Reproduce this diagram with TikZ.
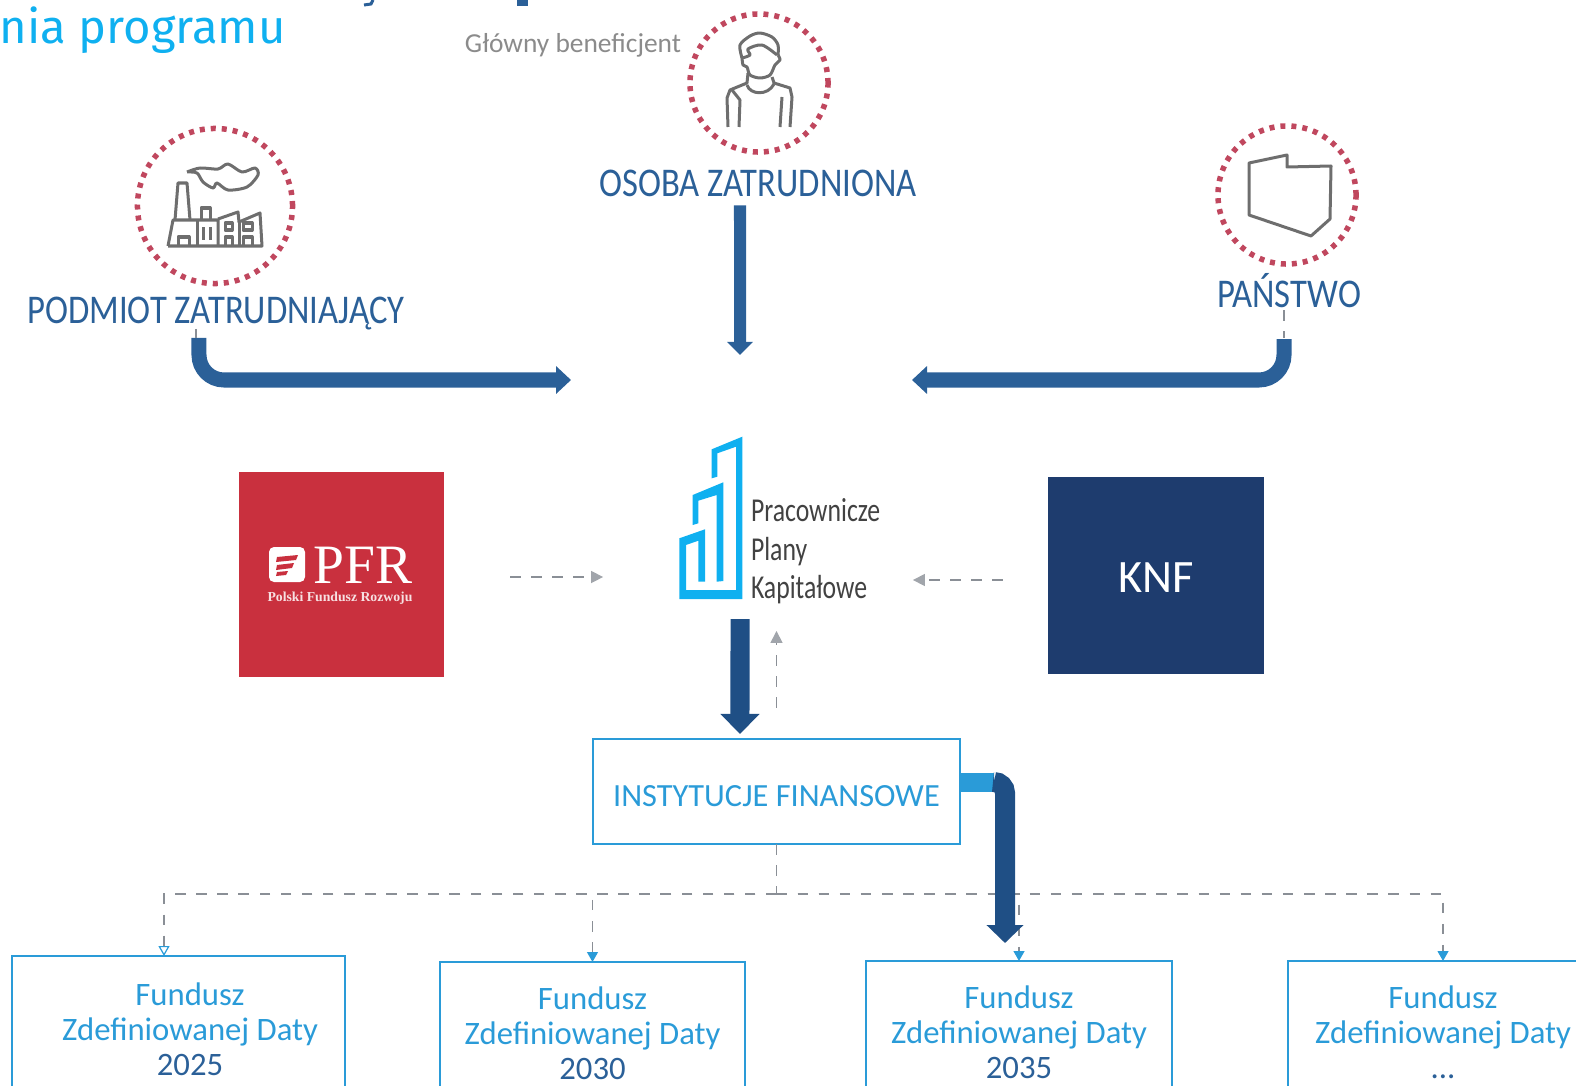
\documentclass[tikz,border=0pt]{standalone}
\usepackage{fontspec}
\usetikzlibrary{arrows.meta}
\newfontfamily\labelfont[FakeStretch=0.85]{Carlito}
\newfontfamily\ppkfont[FakeStretch=0.77]{Carlito}
\newfontfamily\fundfont{Carlito}
\newfontfamily\titlefont{Fira Sans}
\newfontfamily\logofont{Liberation Serif}
\definecolor{ringred}{HTML}{C0475E}
\definecolor{icongray}{HTML}{6E6E6E}
\definecolor{flowblue}{HTML}{2B6098}
\definecolor{deepblue}{HTML}{1F4F85}
\definecolor{fundblue}{HTML}{2A9BD8}
\definecolor{ppkcyan}{HTML}{0FB0F0}
\definecolor{pfrred}{HTML}{C9303E}
\definecolor{knfblue}{HTML}{1E3C6E}
\definecolor{dashgray}{HTML}{8A8F96}
\newcommand{\fundlines}[1]{\begin{tabular}{@{}c@{}}Fundusz\\Zdefiniowanej Daty\\\textcolor{flowblue}{#1}\end{tabular}}
\begin{document}
\begin{tikzpicture}[x=0.01cm,y=-0.01cm,inner sep=0pt,outer sep=0pt,
ringnode/.style={draw=ringred,circle,line width=0.055cm,dash pattern=on 0.05cm off 0.06cm},
partylabel/.style={text=flowblue,font=\labelfont\fontsize{11.6}{13}\selectfont},
logobox/.style={rectangle,minimum width=2.05cm,minimum height=2.05cm},
iconline/.style={draw=icongray,line width=0.03cm,line join=round},
bigarrow/.style={draw=flowblue,line width=0.15cm,-{Triangle[length=0.15cm,width=0.27cm]}},
grayarrow/.style={draw=dashgray,line width=0.015cm,dashed,-{Triangle[length=0.12cm,width=0.12cm,color=dashgray!80]}},
instbox/.style={draw=fundblue,rectangle,line width=0.02cm,minimum width=3.67cm,minimum height=1.05cm,text=fundblue,font=\fundfont\fontsize{9.2}{12}\selectfont},
fundbox/.style={draw=fundblue,rectangle,anchor=north,line width=0.02cm,minimum width=3.05cm,minimum height=1.51cm,text=fundblue,font=\fundfont\fontsize{9.3}{10}\selectfont},
treeline/.style={draw=dashgray,line width=0.012cm,dashed},
treearrow/.style={treeline,-{Triangle[length=0.1cm,width=0.11cm,color=fundblue]}}]
\useasboundingbox (0,0) rectangle (1576,1085);

% heading
\draw (285.5,44) node[anchor=base east,text=ppkcyan,font=\titlefont\fontsize{13.4}{15}\selectfont] (title) {nia programu};
\fill[flowblue] (517,0) rectangle (528,6);
\draw[flowblue,line width=0.03cm] (373,0) -- (371,4) -- (364,5);

% parties
\draw (759,83) node[ringnode,minimum size=1.38cm] (osobaring) {};
\draw (215,206) node[ringnode,minimum size=1.55cm] (podmiotring) {};
\draw (1287,195) node[ringnode,minimum size=1.38cm] (panstworing) {};
\draw (573,45) node[text=icongray!80,font=\fundfont\fontsize{7.8}{10}\selectfont] (beneficjent) {Główny beneficjent};
\draw (758,183) node[partylabel] (osoba) {OSOBA ZATRUDNIONA};
\draw (216,313.5) node[partylabel] (podmiot) {PODMIOT ZATRUDNIAJĄCY};
\draw (1289,291) node[partylabel] (panstwo) {PAŃSTWO};

% person
\draw[iconline] plot[smooth] coordinates {(742,58) (740,45) (750,36) (760,33) (772,37) (778,45) (778,55)};
\draw[iconline] plot[smooth] coordinates {(742,58) (750,55) (748,49) (762,45) (777,55)};
\draw[iconline] plot[smooth] coordinates {(742,57) (743,65) (747,67) (750,75) (760,78) (770,75) (775,65) (780,60) (778,55)};
\draw[iconline] (748,73) -- (747,83) -- (730,90) -- (727,98) -- (728,127);
\draw[iconline] (772,77) -- (774,83) -- (790,88) -- (792,97) -- (790,127);
\draw[iconline] (747,85) .. controls (750,95) and (768,96) .. (774,84);
\draw[iconline] (732,90) -- (740,100) -- (739,127);
\draw[iconline] (782,97) -- (780,127);
% factory
\draw[iconline] (168,246) -- (173,220) -- (218,220) -- (218,246);
\draw[iconline] (175,220) -- (178,183) -- (187,183) -- (190,220);
\draw[iconline] (168,246) -- (262,246) -- (260,213) -- (239,222) -- (238,212) -- (218,219);
\draw[iconline] (197,220) -- (197,246);
\draw[iconline] (239,222) -- (239,246);
\draw[iconline] (201,220) -- (201,208) -- (210,208) -- (210,220);
\draw[iconline] (178,246) -- (178,237) -- (189,237) -- (189,246);
\draw[iconline] (203,227) -- (203,240) (210,227) -- (210,240);
\draw[iconline] (225,223) rectangle (232,230);
\draw[iconline] (243,223) rectangle (252,230);
\draw[iconline] (225,246) -- (225,237) -- (232,237) -- (232,246);
\draw[iconline] (243,246) -- (243,237) -- (252,237) -- (252,246);
\draw[iconline] plot[smooth] coordinates {(187,172) (200,168) (218,169) (228,164) (242,172) (255,168) (258,175) (247,187) (228,190) (217,183) (213,188) (203,182) (197,173) (187,172)};
% map
\draw[iconline] (1249,163) -- (1287,155) -- (1287,167) -- (1331,166) -- (1330,219) -- (1311,236) -- (1249,215) -- cycle;

% logos
\draw (341.5,574.5) node[logobox,fill=pfrred] (pfr) {};
\draw[fill=white,draw=none,rounded corners=0.05cm] (269,547) rectangle (305,582);
\fill[pfrred] (277,557) -- (298,555) -- (296,560) -- (276,562) -- cycle;
\fill[pfrred] (277,565) -- (294,563) -- (292,568) -- (276,570) -- cycle;
\fill[pfrred] (277,572) -- (288,571) -- (286,575) -- (276,576) -- cycle;
\draw (363,565) node[text=white,font=\logofont\fontsize{15.8}{16}\selectfont] (pfrname) {PFR};
\draw (340,598) node[text=white!85!pfrred,font=\logofont\bfseries\fontsize{3.9}{6}\selectfont] (pfrfull) {Polski Fundusz Rozwoju};
\draw (1156,575.5) node[logobox,fill=knfblue,minimum width=2.16cm,minimum height=1.97cm] (knf) {};
\draw (1156,578) node[text=white,font=\fundfont\fontsize{13.2}{15}\selectfont] (knfname) {KNF};
\fill[ppkcyan] (679.3,599) -- (679.3,538.3) -- (705,529.3) -- (705,581.7) -- (698.3,581.7) -- (698.3,540.7) -- (686,545) -- (686,590) -- (736,590) -- (736,446.7) -- (717.3,453.3) -- (717.3,476.7) -- (711.7,478.3) -- (711.7,449.3) -- (742.3,436.7) -- (742.3,599) -- cycle;
\fill[ppkcyan] (692.7,495) -- (723.3,482.3) -- (723.3,581) -- (716.7,581.7) -- (716.7,495) -- (698.3,500.7) -- (698.3,523.3) -- (692.7,525) -- cycle;
\draw (751,551.5) node[anchor=west,align=left,text=icongray!60!black,font=\ppkfont\fontsize{9.5}{11}\selectfont] (ppk) {Pracownicze\\Plany\\Kapitałowe};

% money flows
\coordinate (podmiotend) at (571,380);
\coordinate (panstwoend) at (912,380);
\coordinate (osobaend) at (740,355);
\draw[bigarrow,line width=0.12cm,-{Triangle[length=0.13cm,width=0.25cm]}] ([xshift=-0.18cm,yshift=-0.09cm]osoba.south) -- (osobaend);
\draw[bigarrow,rounded corners=0.25cm] ([xshift=-0.17cm,yshift=-0.08cm]podmiot.south) |- (podmiotend);
\draw[bigarrow,rounded corners=0.25cm] ([xshift=-0.05cm,yshift=-0.31cm]panstwo.south) |- (panstwoend);
\draw[treeline] ([xshift=-0.2cm,yshift=0.01cm]podmiot.south) -- ++(0,9);
\draw[treeline] ([xshift=-0.05cm,yshift=-0.02cm]panstwo.south) -- ++(0,28);

% supervision
\draw[grayarrow] ([xshift=0.66cm,yshift=-0.025cm]pfr.east) -- ++(93,0) coordinate (pfrend);
\draw[grayarrow] ([xshift=-0.45cm,yshift=-0.045cm]knf.west) -- ++(-90,0) coordinate (knfend);

% institutions
\draw (776.5,791.5) node[instbox] (inst) {\raisebox{-0.15cm}[0pt][0pt]{INSTYTUCJE FINANSOWE}};
\coordinate (ppkout) at (740,619);
\draw[bigarrow,draw=deepblue,line width=0.19cm,-{Triangle[length=0.2cm,width=0.38cm]}] (ppkout) -- ([xshift=-0.365cm,yshift=0.05cm]inst.north);
\draw[grayarrow] ([yshift=0.31cm]inst.north) -- ++(0,-77) coordinate (instup);

% funds
\draw (178.5,956) node[fundbox,minimum width=3.33cm,minimum height=1.55cm] (fund2025) {\hspace*{0.23cm}\fundlines{2025}};
\draw (592.5,962) node[fundbox] (fund2030) {\fundlines{2030}};
\draw (1019,961) node[fundbox] (fund2035) {\fundlines{2035}};
\draw (1443,961) node[fundbox,minimum width=3.1cm] (funddots) {\fundlines{...}};
\draw[treeline] (inst.south) -- ++(0,50) coordinate (treejoint);
\draw[treearrow,-{Triangle[length=0.1cm,width=0.11cm,color=fundblue,fill=white]}] (treejoint) -| ([xshift=-0.145cm]fund2025.north);
\draw[treearrow] (treejoint) -| (fund2030.north);
\draw[treearrow] (treejoint) -| (fund2035.north);
\draw[treearrow] (treejoint) -| (funddots.north);

% flow to the funds
\coordinate (stubend) at (1005,943);
\draw[line width=0.19cm,draw=fundblue] (inst.east |- 0,782) -- ++(34,0) coordinate (stub);
\draw[line width=0.2cm,draw=deepblue,rounded corners=0.11cm,-{Triangle[length=0.18cm,width=0.36cm]}] (stub) -| (stubend);
\end{tikzpicture}
\end{document}
